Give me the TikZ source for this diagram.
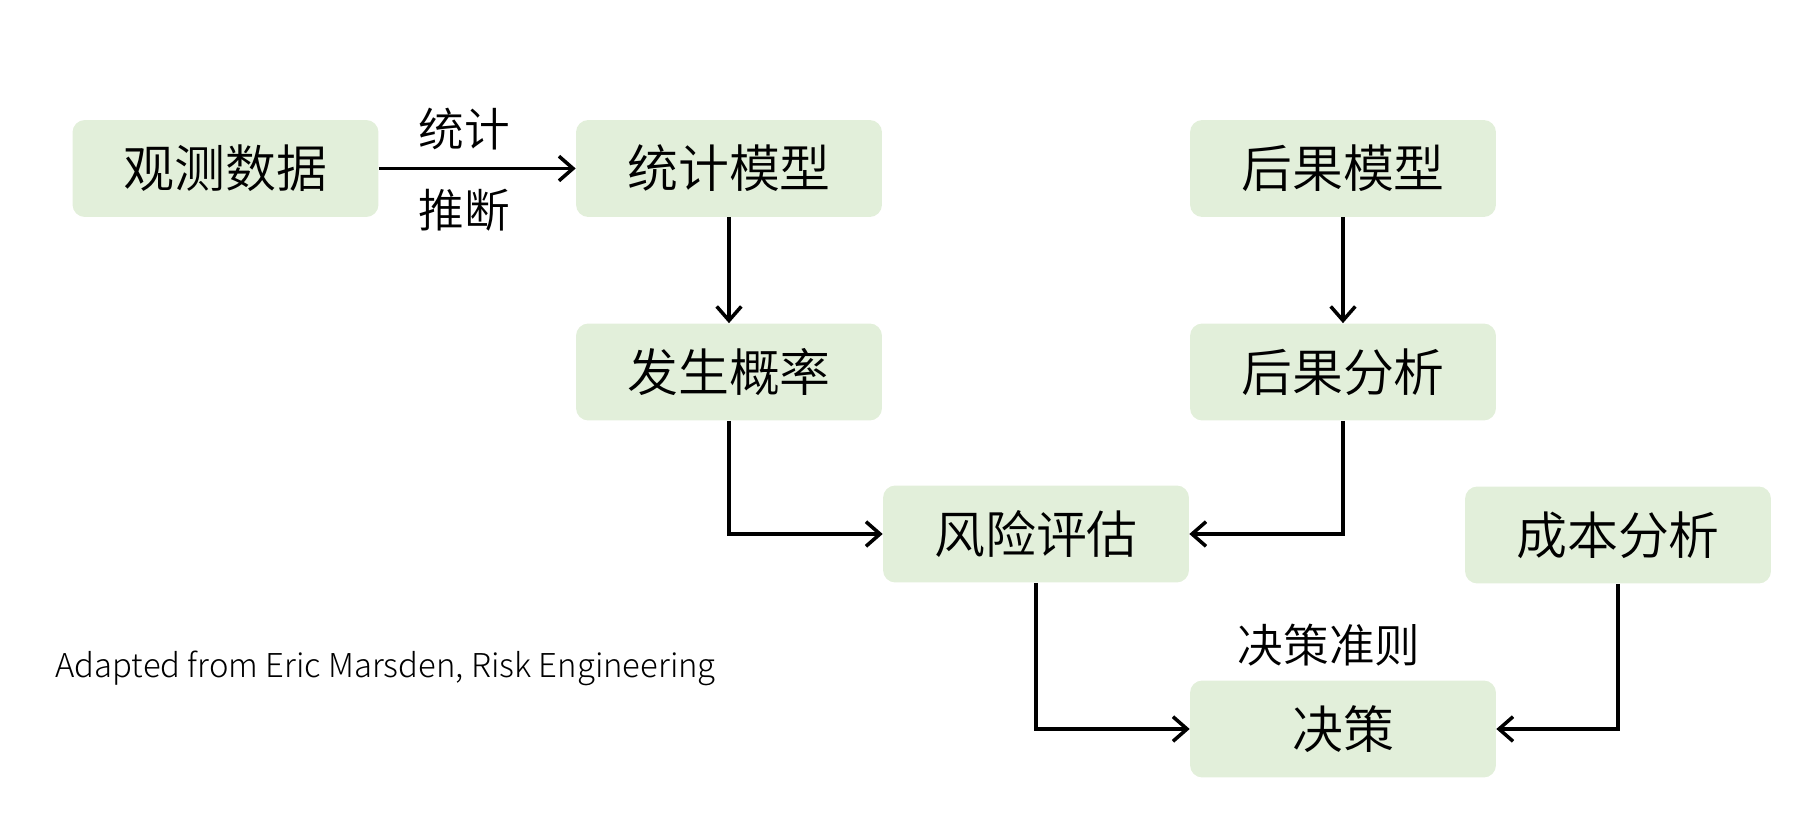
\documentclass[tikz,border=0pt]{standalone}
\usepackage{fontspec}
\setmainfont{Noto Sans CJK SC DemiLight}
\newfontfamily\latinlight{Noto Sans CJK SC Light}
\usetikzlibrary{arrows.meta}
\definecolor{boxgreen}{HTML}{E2EFDA}
\tikzset{
  box/.style={fill=boxgreen, rounded corners=7pt, minimum width=6.12cm, minimum height=1.94cm, inner sep=0pt, font=\fontsize{29}{31}\selectfont},
  conn/.style={line width=2pt, -{Straight Barb[length=8pt,width=14pt,line width=2pt]}},
  lbl/.style={font=\fontsize{26}{28}\selectfont, inner sep=0pt}
}
\begin{document}
\begin{tikzpicture}[x=0.02cm,y=-0.02cm]
\useasboundingbox (0,0) rectangle (1800,813);
\node[box] (obs) at (225.5,168.5) {观测数据};
\node[box] (stat) at (729,168.5) {统计模型};
\node[box] (cons) at (1343,168.5) {后果模型};
\node[box] (prob) at (729,372) {发生概率};
\node[box] (cana) at (1343,372) {后果分析};
\node[box] (risk) at (1036,534) {风险评估};
\node[box] (cost) at (1618,535) {成本分析};
\node[box] (dec) at (1343,729) {决策};
\node[lbl] (l1) at (464,129) {统计};
\node[lbl] (l2) at (464,210) {推断};
\node[lbl] (l3) at (1329,645) {决策准则};
\node[anchor=west, inner sep=0pt, font=\latinlight\fontsize{18.7}{20}\selectfont] (src) at (55,668) {Adapted from Eric Marsden, Risk Engineering};
\draw[conn] (obs.east) -- (stat.west);
\draw[conn] (stat.south) -- (prob.north);
\draw[conn] (cons.south) -- (cana.north);
\draw[conn] (prob.south) |- (risk.west);
\draw[conn] (cana.south) |- (risk.east);
\draw[conn] (risk.south) |- (dec.west);
\draw[conn] (cost.south) |- (dec.east);
\end{tikzpicture}
\end{document}
